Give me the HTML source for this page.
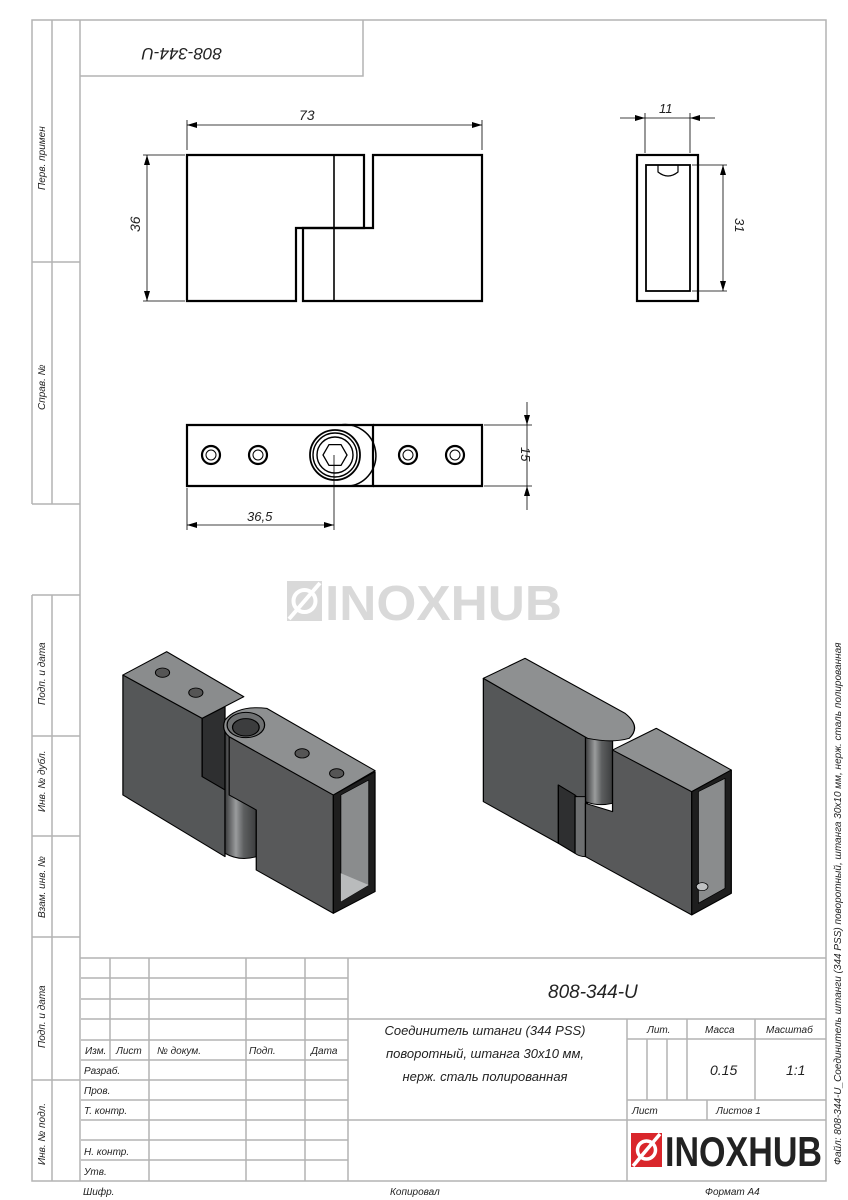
<!DOCTYPE html>
<html><head><meta charset="utf-8"><style>
html,body{margin:0;padding:0;background:#fff;}
svg{display:block;}
.f{fill:none;stroke:#b4b4b4;stroke-width:1.5}
.k{fill:none;stroke:#000;stroke-width:2.2}
.d{fill:none;stroke:#000;stroke-width:0.8}
text{font-family:"Liberation Sans Narrow","Liberation Sans","DejaVu Sans",sans-serif;font-style:italic;fill:#222;}
.s{font-size:10px;}
</style></head><body>
<svg width="848" height="1200" viewBox="0 0 848 1200" xmlns="http://www.w3.org/2000/svg">
<defs>
<marker id="a" viewBox="0 0 10 6" refX="10" refY="3" markerWidth="10" markerHeight="6" orient="auto-start-reverse" markerUnits="userSpaceOnUse"><path d="M0,0L10,3L0,6z" fill="#000"/></marker>
<linearGradient id="cyl" x1="0" x2="1"><stop offset="0" stop-color="#3a3b3c"/><stop offset="0.35" stop-color="#9a9c9d"/><stop offset="0.6" stop-color="#5d5f60"/><stop offset="1" stop-color="#3c3d3e"/></linearGradient>
</defs>
<!-- frame -->
<g class="f">
<path d="M32,504V20H826V1181H32V595"/>
<path d="M52,20V504M32,262H80M32,504H80M80,20V1181M80,76H363V20"/>
<path d="M32,595H80M52,595V1181M32,736H80M32,836H80M32,937H80M32,1080H80"/>
<path d="M80,958H826M348,958V1181M348,1019H826M627,1019V1181M348,1120H826"/>
<path d="M81,978H348M81,999H348M81,1019H348M81,1040H348M81,1060H348M81,1080H348M81,1100H348M81,1120H348M81,1140H348M81,1160H348"/>
<path d="M110,958V1060M149,958V1181M246,958V1181M305,958V1181"/>
<path d="M627,1039H826M687,1019V1100M755,1019V1100M647,1039V1100M667,1039V1100M627,1100H826M707,1100V1120"/>
</g>
<!-- left strip labels -->
<g class="s">
<text transform="translate(45,190) rotate(-90)">Перв. примен</text>
<text transform="translate(45,410) rotate(-90)">Справ. №</text>
<text transform="translate(45,705) rotate(-90)">Подп. и дата</text>
<text transform="translate(45,812) rotate(-90)">Инв. № дубл.</text>
<text transform="translate(45,918) rotate(-90)">Взам. инв. №</text>
<text transform="translate(45,1048) rotate(-90)">Подп. и дата</text>
<text transform="translate(45,1165) rotate(-90)">Инв. № подл.</text>
</g>
<text transform="translate(222,48) rotate(180)" font-size="17">808-344-U</text>
<!-- front view -->
<g class="k">
<path d="M187,155H364V228H296V301H187z"/>
<path d="M373,155H482V301H303V228H373z"/>
<path d="M334,155V301" stroke-width="1.6"/>
</g>
<g class="d">
<path d="M187,150V120M482,150V120M143,155H185M143,301H185"/>
<path d="M187,125H482" marker-start="url(#a)" marker-end="url(#a)"/>
<path d="M147,155V301" marker-start="url(#a)" marker-end="url(#a)"/>
</g>
<text x="299" y="120" font-size="14">73</text>
<text transform="translate(140,232) rotate(-90)" font-size="14">36</text>
<!-- side view -->
<g class="k">
<rect x="637" y="155" width="61" height="146"/>
<rect x="646" y="165" width="44" height="126" stroke-width="1.8"/>
<path d="M658,165V172Q668,180 678,172V165" stroke-width="1.2"/>
</g>
<g class="d">
<path d="M645,153V113M690,153V113M692,165H727M692,291H727"/>
<path d="M620,118H645" marker-end="url(#a)"/><path d="M715,118H690" marker-end="url(#a)"/><path d="M645,118H690"/>
<path d="M723,165V291" marker-start="url(#a)" marker-end="url(#a)"/>
</g>
<text x="659" y="113" font-size="13">11</text>
<text transform="translate(735,218) rotate(90)" font-size="13">31</text>
<!-- top view -->
<g class="k">
<path d="M187,425H373V486H187z"/>
<path d="M373,425H482V486H373"/>
<path d="M340,425A30.5,30.5 0 0 1 350,486" stroke-width="1.5"/>
</g>
<g fill="none" stroke="#000">
<circle cx="211" cy="455" r="9" stroke-width="2.2"/><circle cx="211" cy="455" r="5" stroke-width="1"/>
<circle cx="258" cy="455" r="9" stroke-width="2.2"/><circle cx="258" cy="455" r="5" stroke-width="1"/>
<circle cx="408" cy="455" r="9" stroke-width="2.2"/><circle cx="408" cy="455" r="5" stroke-width="1"/>
<circle cx="455" cy="455" r="9" stroke-width="2.2"/><circle cx="455" cy="455" r="5" stroke-width="1"/>
<circle cx="335" cy="455" r="25" stroke-width="1.8"/><circle cx="335" cy="455" r="22" stroke-width="1.4"/><circle cx="335" cy="455" r="18" stroke-width="1.4"/>
<path d="M347,455L341,465.4H329L323,455L329,444.6H341z" stroke-width="1.3"/>
</g>
<g class="d">
<path d="M187,488V530M334,455V530"/>
<path d="M187,525H334" marker-start="url(#a)" marker-end="url(#a)"/>
<path d="M484,425H532M484,486H532"/>
<path d="M527,402V425" marker-end="url(#a)"/><path d="M527,510V486" marker-end="url(#a)"/><path d="M527,425V486"/>
</g>
<text x="247" y="521" font-size="13">36,5</text>
<text transform="translate(521,447) rotate(90)" font-size="13">15</text>
<!-- watermark -->
<rect x="287" y="581" width="35" height="40" fill="#d9d9d9"/>
<text x="325" y="620" font-size="49" font-weight="bold" style="font-family:'Liberation Sans',sans-serif;font-style:normal;fill:#d9d9d9" textLength="237" lengthAdjust="spacingAndGlyphs">INOXHUB</text>
<circle cx="304.5" cy="601" r="11" fill="none" stroke="#fff" stroke-width="4"/>
<path d="M289,619L320,583" stroke="#fff" stroke-width="4"/>
<!-- 3D left -->
<g transform="translate(100,640) scale(0.4167,0.3333)" stroke="#000" stroke-width="3" stroke-linejoin="round">
<path d="M245,235L300,200V450L245,410z" fill="#2e2f30"/>
<path d="M55,105L245,235V410L300,450V650L55,465z" fill="#555758"/>
<path d="M55,105L160,35L345,170L245,235z" fill="#8a8c8d"/>
<path d="M300,245V640Q335,665 375,650V245z" fill="url(#cyl)"/>
<path d="M310,290L560,465V820L375,690V510L310,465z" fill="#58595a"/>
<path d="M300,240Q330,195 400,205L660,392L560,465L310,290Q290,270 300,240z" fill="#8e9091"/>
<ellipse cx="350" cy="255" rx="45" ry="38" fill="#6f7172"/>
<ellipse cx="350" cy="262" rx="32" ry="26" fill="#3c3d3e"/>
<path d="M560,465L660,395V755L560,820z" fill="#1e1e1e"/>
<path d="M578,465L645,420V735L578,785z" fill="#8a8c8d" stroke-width="2"/>
<path d="M578,700L645,735L578,785z" fill="#b9bbbc" stroke="none"/>
<g fill="#555" stroke-width="2.5"><ellipse cx="150" cy="98" rx="17" ry="14"/><ellipse cx="230" cy="158" rx="17" ry="14"/><ellipse cx="485" cy="340" rx="17" ry="14"/><ellipse cx="568" cy="400" rx="17" ry="14"/></g>
</g>
<!-- 3D right -->
<g transform="translate(100,640) scale(0.4167,0.3333)" stroke="#000" stroke-width="3" stroke-linejoin="round">
<path d="M920,115L1170,295V490L1100,435V610L920,485z" fill="#555758"/>
<path d="M1100,435L1140,465V640L1100,610z" fill="#2e2f30"/>
<path d="M1165,290V485Q1195,500 1230,490V290z" fill="url(#cyl)"/>
<path d="M1140,470V640Q1150,650 1165,650V470z" fill="#6d6f70"/>
<path d="M920,115L1020,55L1260,220Q1300,260 1270,295Q1230,310 1170,295z" fill="#8e9091"/>
<path d="M1230,330L1420,455V825L1165,650V490L1230,515z" fill="#58595a"/>
<path d="M1230,330L1335,265L1515,390L1420,455z" fill="#8e9091"/>
<path d="M1420,455L1515,390V760L1420,825z" fill="#1e1e1e"/>
<path d="M1436,455L1500,415V745L1436,790z" fill="#8a8c8d" stroke-width="2"/>
<ellipse cx="1445" cy="740" rx="14" ry="12" fill="#bfc1c2" stroke-width="2"/>
</g>
<!-- title block texts -->
<text x="548" y="998" font-size="19">808-344-U</text>
<g font-size="13" text-anchor="middle">
<text x="485" y="1035">Соединитель штанги (344 PSS)</text>
<text x="485" y="1058">поворотный, штанга 30х10 мм,</text>
<text x="485" y="1081">нерж. сталь полированная</text>
</g>
<g class="s">
<text x="85" y="1054">Изм.</text><text x="116" y="1054">Лист</text><text x="157" y="1054">№ докум.</text><text x="249" y="1054">Подп.</text><text x="311" y="1054">Дата</text>
<text x="84" y="1074">Разраб.</text><text x="84" y="1094">Пров.</text><text x="84" y="1114">Т. контр.</text><text x="84" y="1155">Н. контр.</text><text x="84" y="1175">Утв.</text>
<text x="647" y="1033">Лит.</text><text x="705" y="1033">Масса</text><text x="766" y="1033">Масштаб</text>
<text x="632" y="1114">Лист</text><text x="716" y="1114">Листов 1</text>
<text x="83" y="1195">Шифр.</text><text x="390" y="1195">Копировал</text><text x="705" y="1195">Формат A4</text>
</g>
<text x="710" y="1075" font-size="14">0.15</text><text x="786" y="1075" font-size="14">1:1</text>
<!-- logo -->
<rect x="631" y="1133" width="31" height="34" fill="#d9262b"/>
<circle cx="646.5" cy="1150" r="9" fill="none" stroke="#fff" stroke-width="3.5"/>
<path d="M633,1166L660,1134" stroke="#fff" stroke-width="3.5"/>
<text x="665" y="1166" font-size="42" font-weight="bold" style="font-family:'Liberation Sans',sans-serif;font-style:normal;fill:#222" textLength="157" lengthAdjust="spacingAndGlyphs">INOXHUB</text>
<text transform="translate(841,1165) rotate(-90)" class="s">Файл: 808-344-U_Соединитель штанги (344 PSS) поворотный, штанга 30х10 мм, нерж. сталь полированная</text>
</svg>
</body></html>
